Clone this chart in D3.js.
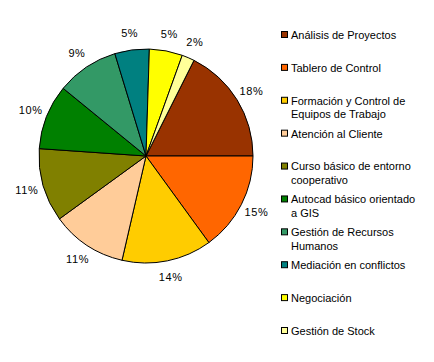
<!DOCTYPE html>
<html>
<head>
<meta charset="utf-8">
<script src="https://cdn.jsdelivr.net/npm/d3@7"></script>
<style>
  html, body { margin: 0; padding: 0; background: #fff; }
  svg { display: block; font-family: "Liberation Sans", Arial, sans-serif; }
</style>
</head>
<body>
<div id="chart"></div>
<script>
'use strict';

const categories = [
  'Análisis de Proyectos',
  'Tablero de Control',
  'Formación y Control de Equipos de Trabajo',
  'Atención al Cliente',
  'Curso básico de entorno cooperativo',
  'Autocad básico orientado a GIS',
  'Gestión de Recursos Humanos',
  'Mediación en conflictos',
  'Negociación',
  'Gestión de Stock',
];

const shares = [17.6, 15.0, 13.6, 11.4, 11.1, 9.8, 9.4, 5.2, 5.0, 1.9];

const colors = [
  '#993300', '#ff6600', '#ffcc00', '#ffcc99', '#808000',
  '#008000', '#339966', '#008080', '#ffff00', '#ffff99',
];

const width = 434;
const height = 362;
const cx = 146;
const cy = 156;
const radius = 107;
const labelRad = 124;

const svg = d3
  .select('#chart')
  .append('svg')
  .attr('width', width)
  .attr('height', height);

const total = d3.sum(shares);
// first slice ends at 3 o'clock
const start = Math.PI / 2 - (shares[0] / total) * 2 * Math.PI;

const pie = d3
  .pie()
  .sort(null)
  .startAngle(start)
  .endAngle(start + 2 * Math.PI);

const arc = d3.arc().innerRadius(0).outerRadius(radius);
const labelArc = d3.arc().innerRadius(labelRad).outerRadius(labelRad);

const arcs = pie(shares);

const g = svg.append('g').attr('transform', 'translate(' + cx + ',' + cy + ')');

g
  .selectAll('path')
  .data(arcs)
  .enter()
  .append('path')
  .attr('d', arc)
  .attr('fill', (d, i) => colors[i])
  .attr('stroke', '#000')
  .attr('stroke-width', 1)
  .attr('stroke-linejoin', 'round');

g
  .selectAll('text.pct')
  .data(arcs)
  .enter()
  .append('text')
  .attr('class', 'pct')
  .attr('x', (d) => labelArc.centroid(d)[0])
  .attr('y', (d) => labelArc.centroid(d)[1])
  .attr('dy', '0.35em')
  .attr('text-anchor', 'middle')
  .attr('font-size', 11)
  .attr('letter-spacing', 0.6)
  .text((d) => Math.round((d.data / total) * 100) + '%');

// legend
const legendX = 281;
const legendY = d3.scaleLinear().domain([0, categories.length - 1]).range([35, 331]);
const maxTextW = 132;

const legend = svg
  .selectAll('g.leg')
  .data(categories)
  .enter()
  .append('g')
  .attr('class', 'leg')
  .attr('transform', (d, i) => 'translate(' + legendX + ',' + legendY(i) + ')');

legend
  .append('rect')
  .attr('x', 0.5)
  .attr('y', -3.5)
  .attr('width', 6)
  .attr('height', 6)
  .attr('fill', (d, i) => colors[i])
  .attr('stroke', '#000');

legend.each(function(name) {
  const t = d3
    .select(this)
    .append('text')
    .attr('x', 10)
    .attr('y', 0)
    .attr('dy', '0.35em')
    .attr('font-size', 11);
  const words = name.split(' ');
  let line = [];
  let lineNo = 0;
  let tspan = t.append('tspan').attr('x', 10).attr('dy', '0.35em');
  words.forEach((w) => {
    line.push(w);
    tspan.text(line.join(' '));
    if (tspan.node().getComputedTextLength() > maxTextW && line.length > 1) {
      line.pop();
      tspan.text(line.join(' '));
      line = [w];
      lineNo += 1;
      tspan = t
        .append('tspan')
        .attr('x', 10)
        .attr('dy', 13.5)
        .text(w);
    }
  });
});
</script>
</body>
</html>
